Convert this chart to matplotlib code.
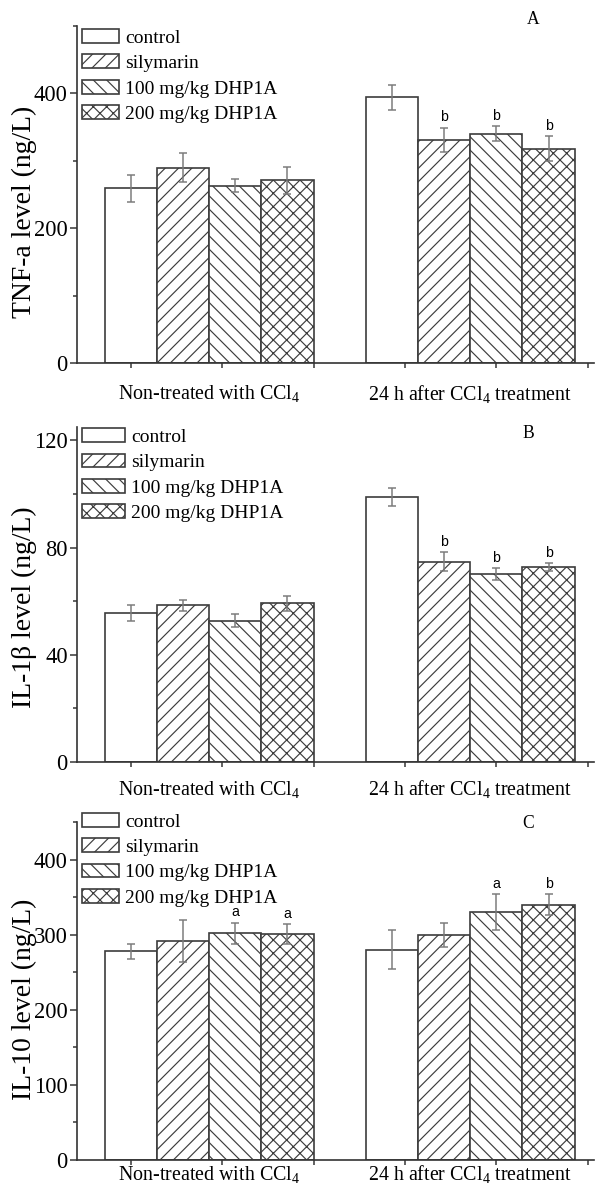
import numpy as np
import matplotlib
matplotlib.use('Agg')
import matplotlib.pyplot as plt

plt.rcParams['font.family'] = ['Liberation Serif', 'DejaVu Serif']
plt.rcParams['mathtext.fontset'] = 'custom'
plt.rcParams['mathtext.rm'] = 'Liberation Serif'
plt.rcParams['mathtext.it'] = 'Liberation Serif:italic'
plt.rcParams['hatch.linewidth'] = 0.7
plt.rcParams['hatch.color'] = '#505050'

# groups and treatments
groups = ['Non-treated with CCl$_\\mathrm{4}$', '24 h after CCl$_\\mathrm{4}$ treatment']
treatments = ['control', 'silymarin', '100 mg/kg DHP1A', '200 mg/kg DHP1A']
hatches = ['', '///', '\\\\\\', 'xxx']

# TNF-a (ng/L)
tnf_mean = [[259, 290, 263, 271], [394, 331, 340, 318]]
tnf_err = [[20, 22, 10, 20], [19, 18, 11, 19]]
tnf_sig = [['', '', '', ''], ['', 'b', 'b', 'b']]

# IL-1b (ng/L)
il1b_mean = [[55.6, 58.5, 52.8, 59.3], [98.8, 74.8, 70.2, 72.7]]
il1b_err = [[3.1, 2.0, 2.4, 2.8], [3.3, 3.6, 2.2, 1.5]]
il1b_sig = [['', '', '', ''], ['', 'b', 'b', 'b']]

# IL-10 (ng/L)
il10_mean = [[278, 292, 302, 301], [280, 300, 330, 340]]
il10_err = [[10, 28, 14, 13], [26, 16, 24, 14]]
il10_sig = [['', '', 'a', 'a'], ['', '', 'a', 'b']]

panels = [
    dict(mean=tnf_mean, err=tnf_err, sig=tnf_sig, ylabel='TNF-a level (ng/L)',
         ylim=500, major=200, minor=100, letter='A', rect=[0.1294, 0.6955, 0.869, 0.2827],
         lab_y=0.448, xlab_off=-31, letter_xy=(0.896, 0.984), hl=1.9, leg_y=0.991),
    dict(mean=il1b_mean, err=il1b_err, sig=il1b_sig, ylabel='IL-1\u03b2 level (ng/L)',
         ylim=125, major=40, minor=20, letter='B', rect=[0.1294, 0.3607, 0.869, 0.281],
         lab_y=0.463, xlab_off=-27, letter_xy=(0.888, 0.636), hl=2.2, leg_y=0.997),
    dict(mean=il10_mean, err=il10_err, sig=il10_sig, ylabel='IL-10 level (ng/L)',
         ylim=450, major=100, minor=50, letter='C', rect=[0.1294, 0.0268, 0.869, 0.2836],
         lab_y=0.476, xlab_off=-14, letter_xy=(0.887, 0.309), hl=1.9, leg_y=1.027),
]

fig = plt.figure(figsize=(595 / 120, 1192 / 120), dpi=120)

for p in panels:
    ax = fig.add_axes(p['rect'])
    handles = []
    for g in range(len(groups)):
        for i in range(len(treatments)):
            x = g * 5 + i
            m = p['mean'][g][i]
            e = p['err'][g][i]
            b = ax.bar(x, m, width=1.0, facecolor='white', edgecolor='#3c3c3c',
                       linewidth=1.0, hatch=hatches[i], zorder=2,
                       label=treatments[i] if g == 0 else None)
            if g == 0:
                handles.append(b)
            ax.errorbar(x, m, yerr=e, fmt='none', ecolor='#7a7a7a', elinewidth=0.9,
                        capsize=2.5, capthick=0.9, zorder=3)
            if p['sig'][g][i]:
                ax.annotate(p['sig'][g][i], (x, m + e), xytext=(0, 2), textcoords='offset points',
                            ha='center', va='bottom', fontsize=8.5, family='Liberation Sans')

    ax.set_xlim(-1.03, 8.87)
    ax.set_ylim(0, p['ylim'])
    ax.spines['top'].set_visible(False)
    ax.spines['right'].set_visible(False)
    for s in ['left', 'bottom']:
        ax.spines[s].set_color('#333333')
        ax.spines[s].set_linewidth(1.0)

    ax.set_xticks([0, 1.75, 3.5, 5.25, 7.0, 8.75])
    ax.set_xticklabels([])
    ax.tick_params(axis='x', direction='out', length=3, width=0.9, color='#333333')
    ax.set_yticks(np.arange(0, p['ylim'] + 1, p['major']))
    ax.set_yticks(np.arange(0, p['ylim'] + 1, p['minor']), minor=True)
    ax.tick_params(axis='y', which='major', direction='out', length=4, width=0.9,
                   color='#333333', labelsize=13.5, pad=1.5)
    ax.tick_params(axis='y', which='minor', direction='out', length=2.5, width=0.9,
                   color='#333333')

    for g, name in enumerate(groups):
        ax.annotate(name, (g * 5 + 1.5, 0), xycoords=('data', 'axes fraction'),
                    xytext=(0, p['xlab_off']), textcoords='offset pixels',
                    ha='center', va='center', fontsize=12)

    ax.set_ylabel(p['ylabel'], fontsize=16.6)
    ax.yaxis.set_label_coords(-0.077, p['lab_y'])

    ax.legend(handles=handles, loc='upper left', bbox_to_anchor=(0.01, p['leg_y']),
              frameon=False, fontsize=11.7, handlelength=p['hl'], handleheight=0.7,
              handletextpad=0.3, labelspacing=0.4, borderpad=0, borderaxespad=0)

    fig.text(p['letter_xy'][0], p['letter_xy'][1], p['letter'], ha='center', va='center',
             fontsize=10.5)

fig.savefig('out.png', dpi=120)
